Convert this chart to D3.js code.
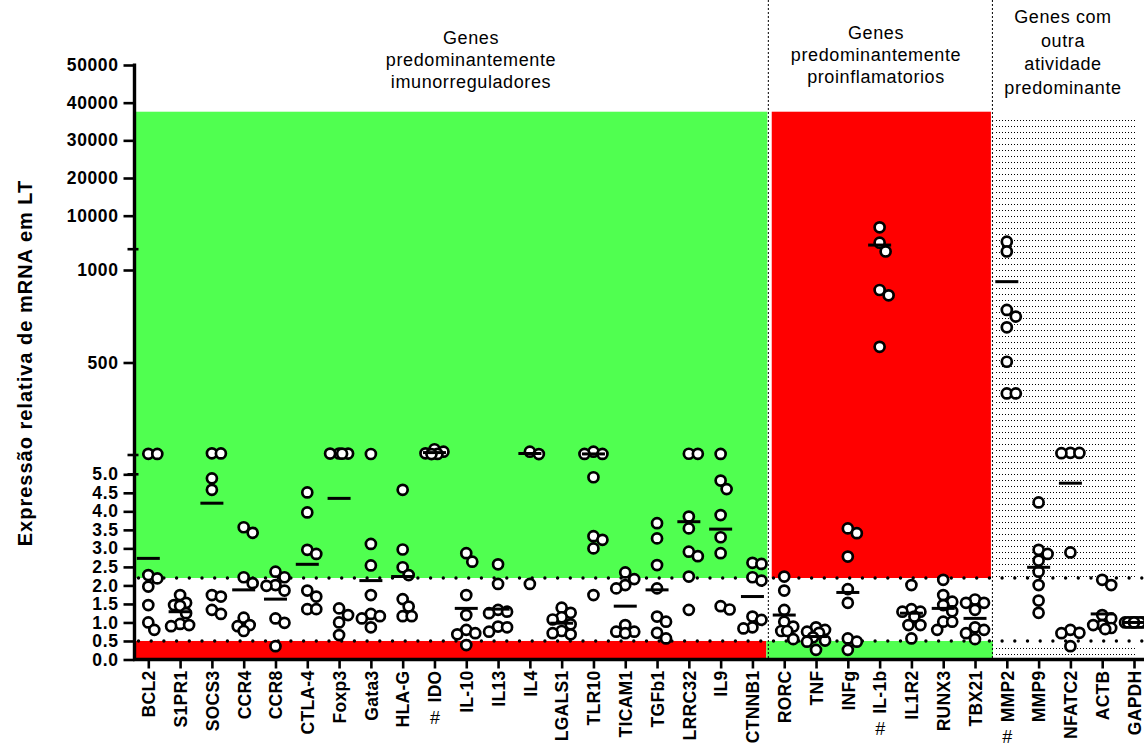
<!DOCTYPE html>
<html>
<head>
<meta charset="utf-8">
<script src="https://cdn.jsdelivr.net/npm/d3@7"></script>
<style>
body { margin: 0; background: #fff; }
svg text { font-family: "Liberation Sans", Arial, Helvetica, sans-serif; }
</style>
</head>
<body>
<div id="chart"></div>
<script>
// genes per group
const immunoGenes = ["BCL2", "S1PR1", "SOCS3", "CCR4", "CCR8", "CTLA-4", "Foxp3", "Gata3", "HLA-G", "IDO",
    "IL-10", "IL13", "IL4", "LGALS1", "TLR10", "TICAM1", "TGFb1", "LRRC32", "IL9", "CTNNB1"];
const proinflGenes = ["RORC", "TNF", "INFg", "IL-1b", "IL1R2", "RUNX3", "TBX21"];
const otherGenes = ["MMP2", "MMP9", "NFATC2", "ACTB", "GAPDH"];
const hashGenes = ["IDO", "IL-1b", "MMP2"];

// relative expression, one list per gene
const immunoValues = [
    [6.5, 6.0, 2.28, 2.19, 1.97, 1.47, 1.0, 0.8],
    [1.74, 1.53, 1.47, 1.45, 1.25, 0.96, 0.93, 0.90],
    [9.0, 8.3, 4.89, 4.58, 1.74, 1.70, 1.34, 1.23],
    [3.57, 3.42, 2.22, 2.06, 1.13, 0.93, 0.90, 0.77],
    [2.37, 2.22, 2.01, 1.99, 1.86, 1.11, 0.99, 0.36],
    [4.51, 3.97, 2.96, 2.85, 1.86, 1.70, 1.36, 1.36],
    [8.0, 7.8, 7.5, 7.3, 1.38, 1.20, 1.00, 0.66],
    [5.3, 3.12, 2.54, 1.74, 1.23, 1.17, 1.11, 0.87],
    [4.58, 2.97, 2.49, 2.28, 1.63, 1.43, 1.17, 1.17],
    [31, 18, 9, 6, 5.2],
    [2.87, 2.64, 1.74, 1.20, 0.80, 0.71, 0.68, 0.39],
    [2.57, 2.04, 1.34, 1.29, 1.25, 0.89, 0.87, 0.75],
    [18, 5.2, 2.04],
    [1.40, 1.26, 1.14, 1.08, 0.95, 0.77, 0.71, 0.68],
    [18, 6, 6, 4.92, 3.33, 3.23, 3.0, 1.74],
    [2.35, 2.17, 2.01, 1.92, 0.93, 0.75, 0.75, 0.71],
    [3.68, 3.27, 2.55, 1.92, 1.16, 1.02, 0.72, 0.57],
    [6.8, 6.3, 3.86, 3.54, 2.91, 2.79, 2.24, 1.34],
    [5.9, 4.83, 4.6, 3.90, 3.30, 2.87, 1.44, 1.35],
    [2.61, 2.58, 2.22, 2.13, 1.16, 1.07, 0.87, 0.84]
];
const proinflValues = [
    [2.24, 1.86, 1.34, 1.02, 0.89, 0.77, 0.77, 0.55],
    [0.87, 0.80, 0.75, 0.72, 0.60, 0.51, 0.48, 0.26],
    [3.54, 3.41, 2.78, 1.90, 1.53, 0.57, 0.48, 0.26],
    [6920, 2830, 1100, 892, 863, 585],
    [2.01, 1.36, 1.29, 1.29, 1.16, 0.93, 0.93, 0.57],
    [2.15, 1.74, 1.56, 1.47, 1.30, 1.02, 1.02, 0.80],
    [1.62, 1.53, 1.53, 1.34, 0.87, 0.80, 0.71, 0.55]
];
const otherValues = [
    [3100, 1100, 784, 748, 690, 504, 333, 333],
    [4.24, 2.96, 2.85, 2.67, 2.37, 2.01, 1.59, 1.26],
    [12, 11, 9.6, 2.89, 0.80, 0.72, 0.71, 0.36],
    [2.15, 2.01, 1.20, 1.11, 0.93, 0.93, 0.85, 0.82],
    [1, 1, 1, 1, 1, 1, 1, 1]
];

// group means (bars)
const immunoMeans = [2.73, 1.29, 4.22, 1.88, 1.63, 2.57, 4.35, 2.13, 2.24, 13, 1.38, 1.36, 8, 0.98, 5.8, 1.44, 1.88, 3.72, 3.52, 1.70];
const proinflMeans = [1.20, 0.62, 1.81, 2198, 1.25, 1.38, 1.11];
const otherMeans = [937, 2.49, 4.76, 1.23, 1.0];

// axis ticks
const lowTicks = [0, 0.5, 1, 1.5, 2, 2.5, 3, 3.5, 4, 4.5, 5];
const midTicks = [500, 1000];
const topTicks = [10000, 20000, 30000, 40000, 50000];
const refLines = [2.2, 0.5];
const bandTop = 37600;

const groupTitles = [
    ["Genes", "predominantemente", "imunorreguladores"],
    ["Genes", "predominantemente", "proinflamatorios"],
    ["Genes com", "outra", "atividade", "predominante"]
];

const WIDTH = 1144, HEIGHT = 747;
const AXIS_X = 134.5, AXIS_Y = 659.5;
const GREEN = "#50ff50", RED = "#ff0000";
const R = 5;
const MIN_DIST = 9.5;
const OFFSETS = [0, 3, -3, 6, -6, 9, -9];

const svg = d3.select("#chart").append("svg")
    .attr("width", WIDTH)
    .attr("height", HEIGHT);

const genes = immunoGenes.concat(proinflGenes, otherGenes);
const values = immunoValues.concat(proinflValues, otherValues);
const means = immunoMeans.concat(proinflMeans, otherMeans);

const x = d3.scalePoint().domain(genes).range([148.3, 1134]);

// broken y axis: three linear segments
const yLow = d3.scaleLinear().domain([0, 5]).range([AXIS_Y, 474.3]);
const yMid = d3.scaleLinear().domain([0, 1100]).range([455, 251.5]);
const yTop = d3.scaleLinear().domain([1100, 50000]).range([249.2, 65]);
const y = v => v <= 5 ? yLow(v) : (v <= 1100 ? yMid(v) : yTop(v));

const sep1 = (x(immunoGenes[immunoGenes.length - 1]) + x(proinflGenes[0])) / 2;
const sep2 = (x(proinflGenes[proinflGenes.length - 1]) + x(otherGenes[0])) / 2;
const rightEdge = x(otherGenes[otherGenes.length - 1]) + 1;

// dotted fill for the last group
const pat = svg.append("defs").append("pattern")
    .attr("id", "dots")
    .attr("patternUnits", "userSpaceOnUse")
    .attr("width", 3)
    .attr("height", 6);
pat.append("rect").attr("width", 1).attr("height", 1).attr("fill", "#000");

const bg = svg.append("g");
const bandY = y(bandTop), hiY = y(refLines[0]), loY = y(refLines[1]);
// upper bands
bg.append("rect").attr("x", AXIS_X).attr("y", bandY).attr("width", sep1 - 1 - AXIS_X).attr("height", hiY - bandY).attr("fill", GREEN);
bg.append("rect").attr("x", sep1 + 3.4).attr("y", bandY).attr("width", sep2 - sep1 - 3.4).attr("height", hiY - bandY).attr("fill", RED);
bg.append("rect").attr("x", sep2 + 3).attr("y", bandY + 6).attr("width", rightEdge - sep2 - 3).attr("height", hiY - bandY - 6).attr("fill", "url(#dots)");
// lower bands
bg.append("rect").attr("x", AXIS_X).attr("y", loY).attr("width", sep1 - 2 - AXIS_X).attr("height", AXIS_Y - loY).attr("fill", RED);
bg.append("rect").attr("x", sep1 - 2).attr("y", loY).attr("width", sep2 + 2 - sep1 + 2).attr("height", AXIS_Y - loY).attr("fill", GREEN);
bg.append("rect").attr("x", sep2 + 3).attr("y", loY + 3).attr("width", rightEdge - sep2 - 3).attr("height", AXIS_Y - loY - 3).attr("fill", "url(#dots)");

// reference dotted lines
svg.append("g").selectAll("line")
    .data(refLines)
    .join("line")
    .attr("x1", AXIS_X + 4)
    .attr("x2", WIDTH)
    .attr("y1", d => y(d))
    .attr("y2", d => y(d))
    .attr("stroke", "#000")
    .attr("stroke-width", 3.4)
    .attr("stroke-linecap", "round")
    .attr("stroke-dasharray", "0 12.7");

// group separators
svg.append("g").selectAll("line")
    .data([sep1, sep2 + 1.5])
    .join("line")
    .attr("x1", d => d)
    .attr("x2", d => d)
    .attr("y1", 0)
    .attr("y2", AXIS_Y)
    .attr("stroke", "#000")
    .attr("stroke-width", 1)
    .attr("stroke-dasharray", "2 2");

// scatter: dodge points so they don't pile up
function swarm(cx, vals) {
    const placed = [];
    vals.map(v => ({v: v, py: y(v)}))
        .sort((a, b) => a.py - b.py)
        .forEach(p => {
            let best = cx, bestD = -1;
            for (const o of OFFSETS) {
                const px = cx + o;
                const d = placed.length ? d3.min(placed, q => Math.hypot(q.px - px, q.py - p.py)) : Infinity;
                if (d >= MIN_DIST) { best = px; break; }
                if (d > bestD) { bestD = d; best = px; }
            }
            placed.push({px: best, py: p.py});
        });
    return placed;
}

const points = genes.flatMap((g, i) => swarm(x(g), values[i]));

svg.append("g").selectAll("circle")
    .data(points)
    .join("circle")
    .attr("cx", d => d.px)
    .attr("cy", d => d.py)
    .attr("r", R)
    .attr("fill", "#fff")
    .attr("stroke", "#000")
    .attr("stroke-width", 2.7);

// mean bars
svg.append("g").selectAll("line")
    .data(genes)
    .join("line")
    .attr("x1", g => x(g) - 11.5)
    .attr("x2", g => x(g) + 11.5)
    .attr("y1", (g, i) => y(means[i]))
    .attr("y2", (g, i) => y(means[i]))
    .attr("stroke", "#000")
    .attr("stroke-width", 3);

// y axis
const fmt1 = d3.format(".1f"), fmtInt = d3.format("d");
[[yLow, lowTicks, fmt1], [yMid, midTicks, fmtInt], [yTop, topTicks, fmtInt]].forEach(([sc, ticks, f]) => {
    const g = svg.append("g")
        .attr("transform", `translate(${AXIS_X},0)`)
        .call(d3.axisLeft(sc).tickValues(ticks).tickFormat(f).tickSize(11).tickPadding(5));
    g.select(".domain").remove();
    g.selectAll(".tick line").attr("stroke-width", 2.6);
    g.selectAll(".tick text")
        .attr("font-size", 17.5)
        .attr("font-weight", "bold")
        .attr("letter-spacing", 0.6)
        .attr("fill", "#000");
});

svg.append("line")
    .attr("x1", AXIS_X).attr("x2", AXIS_X)
    .attr("y1", yTop(50000) - 1.5).attr("y2", AXIS_Y + 1.5)
    .attr("stroke", "#000").attr("stroke-width", 3.4);

// axis break marks
svg.append("g").selectAll("line")
    .data([yLow(5), yMid(0), yTop(1100)])
    .join("line")
    .attr("x1", AXIS_X - 7)
    .attr("x2", AXIS_X + 4)
    .attr("y1", d => d)
    .attr("y2", d => d)
    .attr("stroke", "#000")
    .attr("stroke-width", 2.6);

// x axis
const xg = svg.append("g")
    .attr("transform", `translate(0,${AXIS_Y})`)
    .call(d3.axisBottom(x).tickSize(9).tickSizeOuter(0));
xg.select(".domain").remove();
xg.selectAll(".tick line").attr("stroke-width", 2.6);
xg.selectAll(".tick text")
    .attr("transform", "rotate(-90)")
    .attr("text-anchor", "end")
    .attr("x", -11)
    .attr("y", 0)
    .attr("dy", "0.36em")
    .attr("font-size", 17.5)
    .attr("font-weight", "bold")
    .attr("letter-spacing", 0.3)
    .attr("fill", "#000");
svg.append("line")
    .attr("x1", AXIS_X - 1.5).attr("x2", WIDTH)
    .attr("y1", AXIS_Y).attr("y2", AXIS_Y)
    .attr("stroke", "#000").attr("stroke-width", 3.4);

// "#" under marked genes
xg.selectAll(".tick").each(function (g) {
    if (!hashGenes.includes(g)) return;
    const len = d3.select(this).select("text").node().getComputedTextLength();
    d3.select(this).append("text")
        .attr("x", 0)
        .attr("y", 11 + len + 21)
        .attr("text-anchor", "middle")
        .attr("font-size", 18)
        .attr("fill", "#000")
        .text("#");
});

// y title
svg.append("text")
    .attr("transform", "translate(32,363) rotate(-90)")
    .attr("text-anchor", "middle")
    .attr("font-size", 20)
    .attr("font-weight", "bold")
    .attr("letter-spacing", 1)
    .text("Expressão relativa de mRNA em LT");

// group titles
const titleX = [471, 876, 1063];
const titleY = [44, 39, 23];
const titleStep = [21.8, 21.8, 23.5];
groupTitles.forEach((lines, i) => {
    const t = svg.append("text")
        .attr("text-anchor", "middle")
        .attr("font-size", 18)
        .attr("letter-spacing", 0.6)
        .attr("fill", "#000");
    lines.forEach((s, j) => {
        t.append("tspan").attr("x", titleX[i]).attr("y", titleY[i] + j * titleStep[i]).text(s);
    });
});
</script>
</body>
</html>
